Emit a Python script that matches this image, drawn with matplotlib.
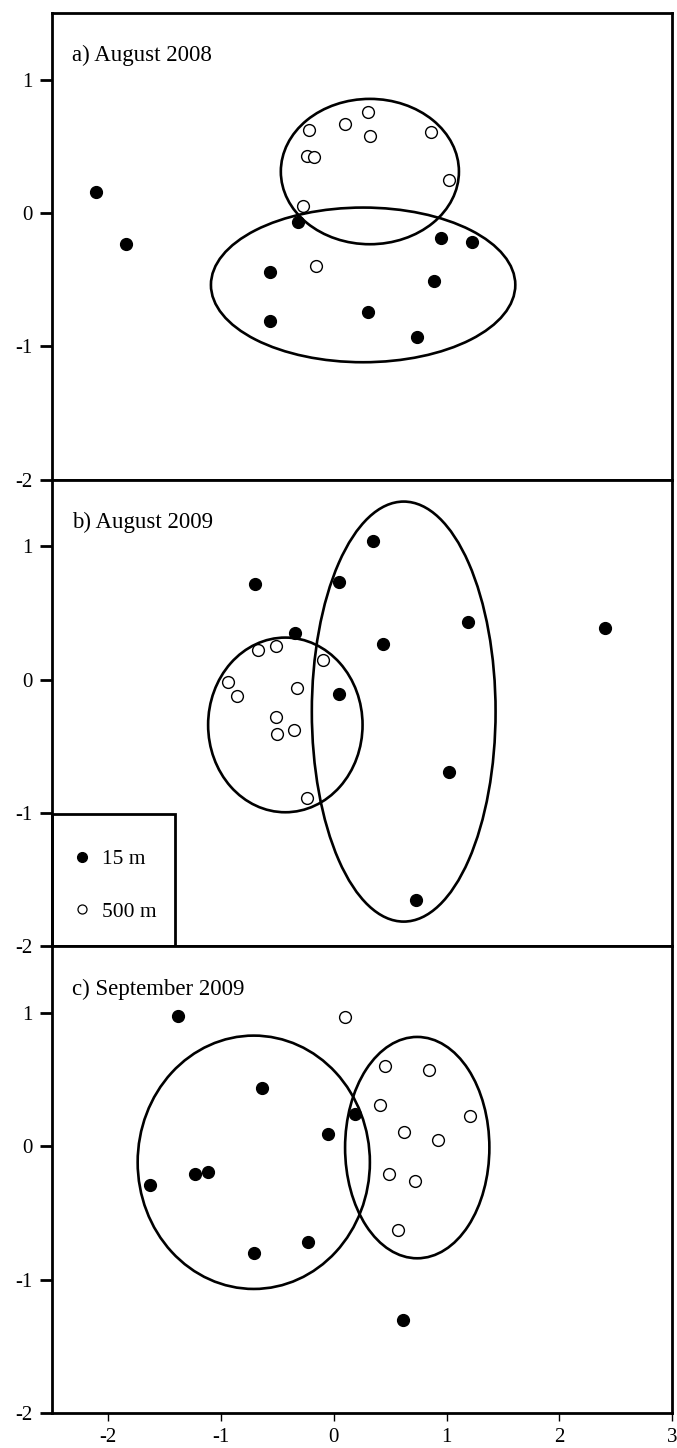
import matplotlib
matplotlib.use("Agg")
import matplotlib.pyplot as plt
from matplotlib.patches import Ellipse, Rectangle
from matplotlib.lines import Line2D

plt.rcParams['font.family'] = ['Liberation Serif', 'DejaVu Serif']

# panel titles
titles = ["a) August 2008", "b) August 2009", "c) September 2009"]

# 15 m samples (filled)
x15_a = [-2.11, -1.84, -0.32, -0.57, -0.57, 0.30, 0.74, 0.89, 0.95, 1.23]
y15_a = [0.16, -0.23, -0.07, -0.44, -0.81, -0.74, -0.93, -0.51, -0.19, -0.22]
x15_b = [-0.70, 0.35, 0.05, -0.34, 0.44, 1.19, 2.41, 0.05, 1.02, 0.73]
y15_b = [0.72, 1.04, 0.73, 0.35, 0.27, 0.43, 0.39, -0.11, -0.69, -1.65]
x15_c = [-1.38, -0.64, -0.05, 0.19, -1.63, -1.23, -1.12, -0.71, -0.23, 0.61]
y15_c = [0.98, 0.44, 0.09, 0.24, -0.29, -0.21, -0.19, -0.80, -0.72, -1.30]

# 500 m samples (open)
x500_a = [-0.22, 0.10, 0.30, 0.32, 0.86, -0.24, -0.18, 1.02, -0.27, -0.16]
y500_a = [0.62, 0.67, 0.76, 0.58, 0.61, 0.43, 0.42, 0.25, 0.05, -0.40]
x500_b = [-0.67, -0.51, -0.10, -0.94, -0.86, -0.33, -0.51, -0.50, -0.35, -0.24]
y500_b = [0.22, 0.25, 0.15, -0.02, -0.12, -0.06, -0.28, -0.41, -0.38, -0.89]
x500_c = [0.10, 0.45, 0.84, 0.41, 1.21, 0.62, 0.92, 0.49, 0.72, 0.57]
y500_c = [0.97, 0.60, 0.57, 0.31, 0.23, 0.11, 0.05, -0.21, -0.26, -0.63]

# group ellipses: (centre x, centre y, width, height)
ell15 = [(0.26, -0.54, 2.70, 1.16), (0.62, -0.24, 1.63, 3.15), (-0.71, -0.12, 2.06, 1.90)]
ell500 = [(0.32, 0.31, 1.58, 1.09), (-0.43, -0.34, 1.37, 1.31), (0.74, -0.01, 1.28, 1.66)]

xs15 = [x15_a, x15_b, x15_c]
ys15 = [y15_a, y15_b, y15_c]
xs500 = [x500_a, x500_b, x500_c]
ys500 = [y500_a, y500_b, y500_c]

fig = plt.figure(figsize=(6.77, 14.48), dpi=100)
left, width, h = 0.0768, 0.9158, 0.3223
bottoms = [0.0242 + 2 * h, 0.0242 + h, 0.0242]

for i in range(3):
    ax = fig.add_axes([left, bottoms[i], width, h])
    for e in [ell15[i], ell500[i]]:
        ax.add_patch(Ellipse((e[0], e[1]), e[2], e[3], fill=False,
                             edgecolor='black', lw=1.9, zorder=2))
    ax.plot(xs15[i], ys15[i], 'o', color='black', markersize=8.5, zorder=3)
    ax.plot(xs500[i], ys500[i], 'o', markerfacecolor='white',
            markeredgecolor='black', markeredgewidth=1.0, markersize=8.5, zorder=3)
    ax.set_xlim(-2.5, 3)
    ax.set_ylim(-2, 1.5)
    ax.set_yticks([1, 0, -1, -2])
    ax.set_yticklabels(['1', '0', '-1', '-2'])
    ax.tick_params(axis='y', direction='out', length=9, width=2, labelsize=15, pad=5)
    for s in ax.spines.values():
        s.set_linewidth(2)
    ax.text(0.032, 0.908, titles[i], transform=ax.transAxes, fontsize=16.5,
            va='center', ha='left')
    if i < 2:
        ax.set_xticks([])
    else:
        ax.set_xticks([-2, -1, 0, 1, 2, 3])
        ax.set_xticklabels(['-2', '-1', '0', '1', '2', '3'])
        ax.tick_params(axis='x', direction='out', length=6, width=1, labelsize=15, pad=5)
    if i == 1:
        ax.add_patch(Rectangle((0, 0), 0.198, 0.284, transform=ax.transAxes,
                               fill=False, edgecolor='black', lw=2, zorder=4,
                               clip_on=False))
        handles = [Line2D([], [], ls='none', marker='o', color='black', markersize=7),
                   Line2D([], [], ls='none', marker='o', markerfacecolor='white',
                          markeredgecolor='black', markeredgewidth=0.9, markersize=6.5)]
        ax.legend(handles, ['15 m', '500 m'], loc='center left',
                  bbox_to_anchor=(0.0, -0.012, 0.198, 0.284), frameon=False,
                  fontsize=15.5, handlelength=1.2, handletextpad=0.3,
                  labelspacing=1.5, borderpad=0, borderaxespad=0.8)

fig.savefig('out.png', dpi=100)
